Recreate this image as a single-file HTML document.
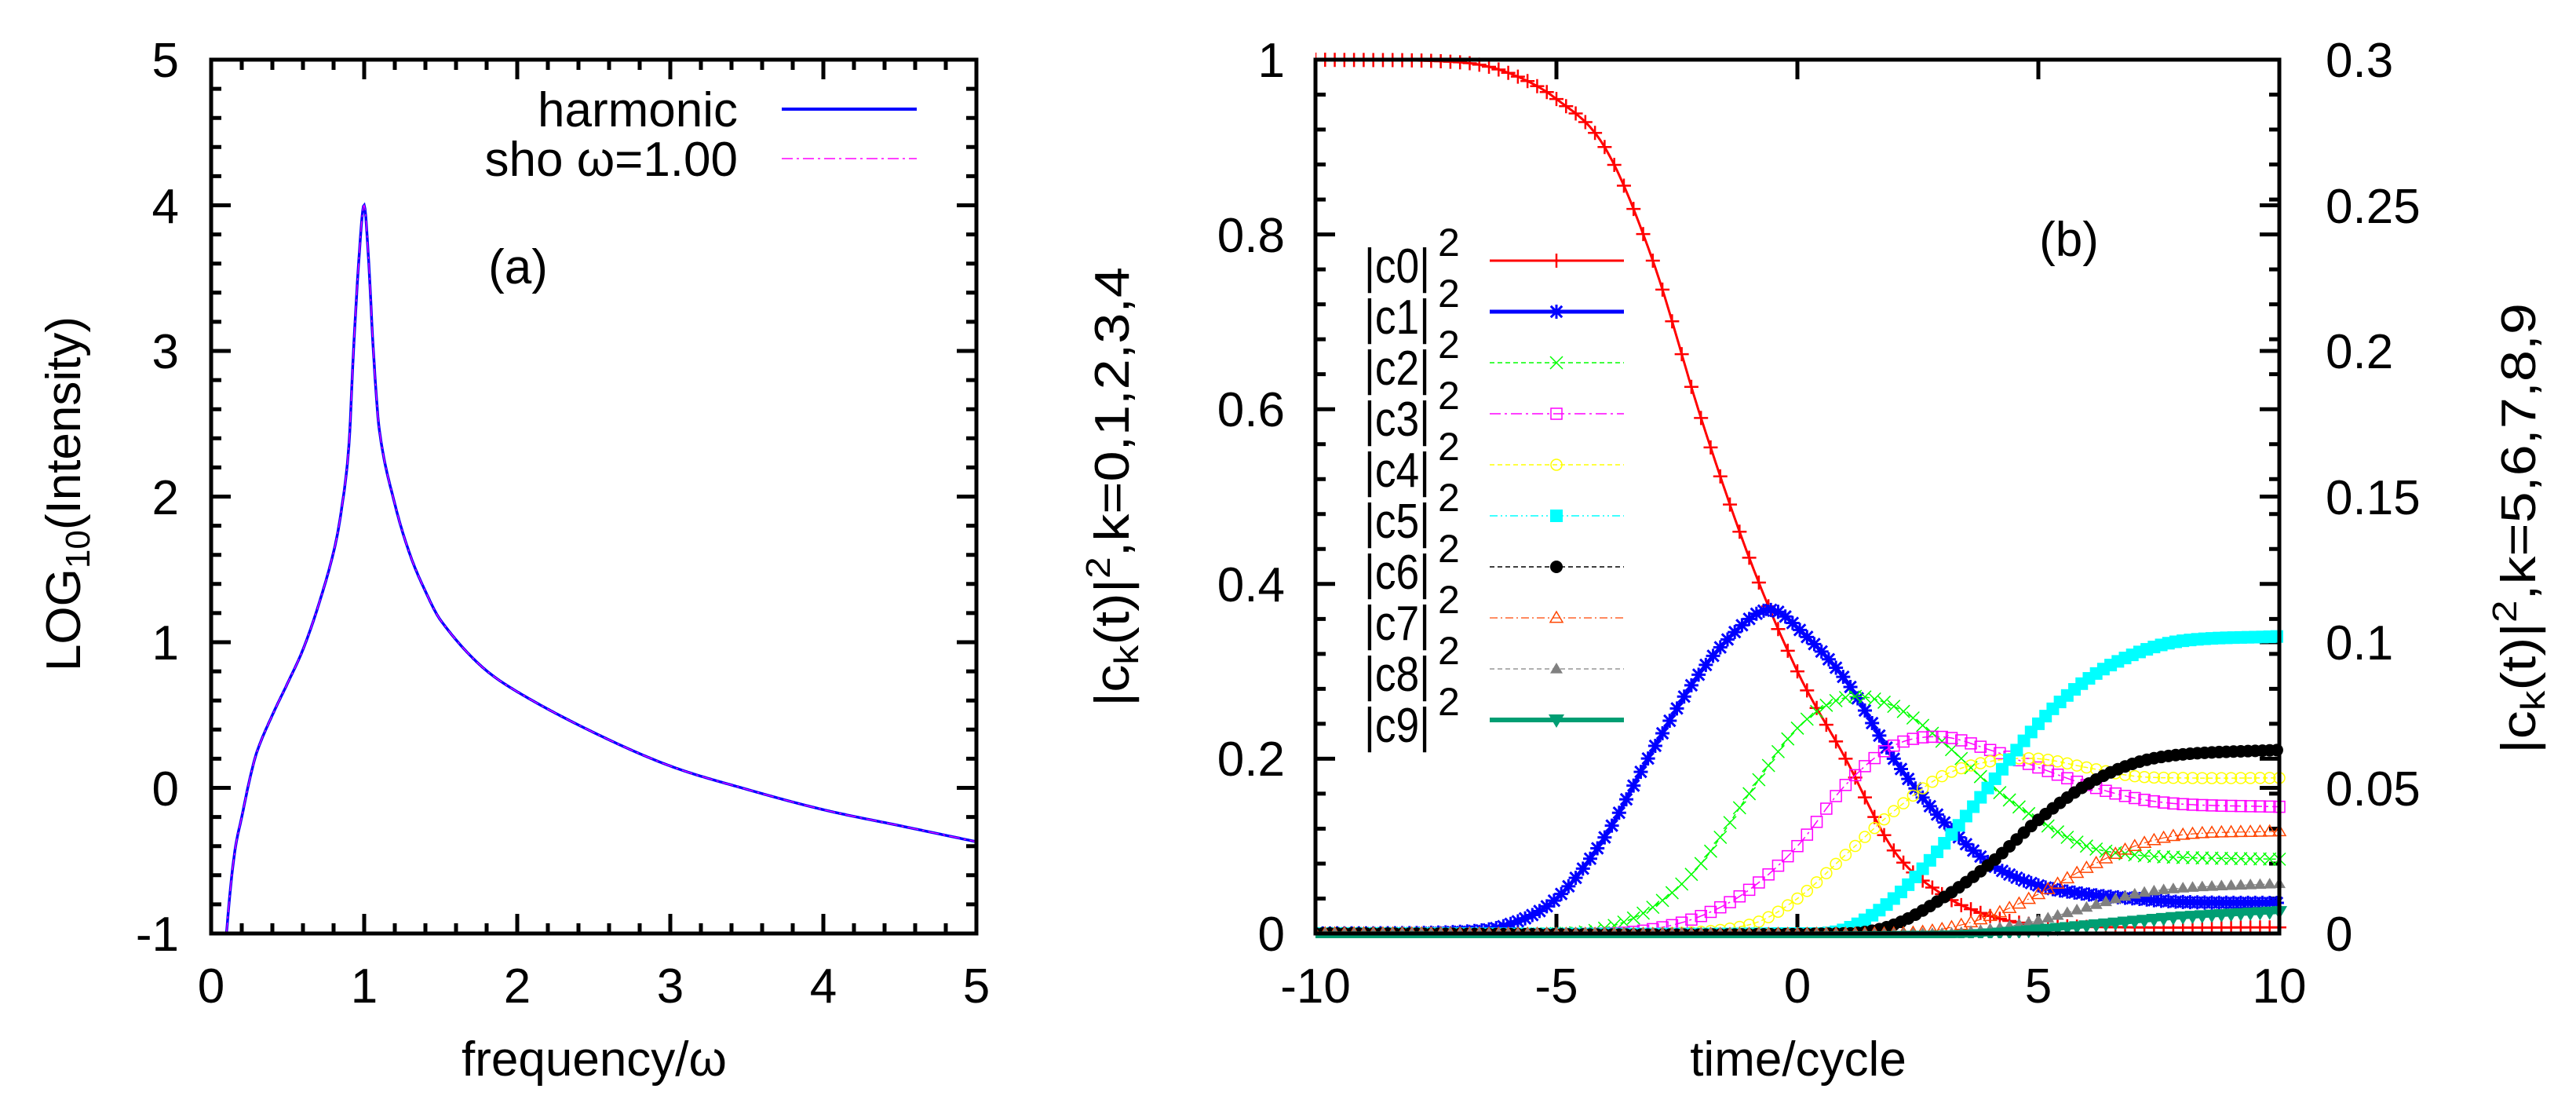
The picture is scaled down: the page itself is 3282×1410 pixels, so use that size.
<!DOCTYPE html>
<html><head><meta charset="utf-8"><style>
html,body{margin:0;padding:0;background:#fff;}
svg{display:block;font-family:"Liberation Sans",sans-serif;}
</style></head><body>
<svg id="s" width="3282" height="1410" viewBox="0 0 3282 1410" xmlns="http://www.w3.org/2000/svg">
<defs>
<clipPath id="ca"><rect x="269" y="76" width="975" height="1113"/></clipPath>
<clipPath id="cb"><rect x="1676" y="60" width="1250" height="1135"/></clipPath>
</defs>
<g id="ticks" stroke="#000" stroke-width="5" fill="none"></g>
<g id="series"></g>
<rect x="269" y="76" width="975" height="1113" fill="none" stroke="#000" stroke-width="5"/>
<rect x="1676" y="76" width="1228" height="1113" fill="none" stroke="#000" stroke-width="5"/>
<g font-size="62" fill="#000">
<g text-anchor="end">
<text x="228" y="98">5</text><text x="228" y="284">4</text><text x="228" y="469">3</text>
<text x="228" y="655">2</text><text x="228" y="840">1</text><text x="228" y="1026">0</text>
<text x="228" y="1211">-1</text>
</g>
<g text-anchor="middle">
<text x="269" y="1277">0</text><text x="464" y="1277">1</text><text x="659" y="1277">2</text>
<text x="854" y="1277">3</text><text x="1049" y="1277">4</text><text x="1244" y="1277">5</text>
<text x="757" y="1370">frequency/ω</text>
<text x="660" y="361">(a)</text>
</g>
<g text-anchor="end">
<text x="940" y="161">harmonic</text>
<text x="940" y="224">sho ω=1.00</text>
</g>
<text transform="translate(102,629) rotate(-90)" text-anchor="middle">LOG<tspan font-size="44" dy="12">10</tspan><tspan dy="-12">(Intensity)</tspan></text>
<g text-anchor="end">
<text x="1637" y="98">1</text><text x="1637" y="321">0.8</text><text x="1637" y="543">0.6</text>
<text x="1637" y="766">0.4</text><text x="1637" y="988">0.2</text><text x="1637" y="1211">0</text>
</g>
<g text-anchor="start">
<text x="2963" y="98">0.3</text><text x="2963" y="284">0.25</text><text x="2963" y="469">0.2</text>
<text x="2963" y="655">0.15</text><text x="2963" y="840">0.1</text><text x="2963" y="1026">0.05</text>
<text x="2963" y="1211">0</text>
</g>
<g text-anchor="middle">
<text x="1676" y="1277">-10</text><text x="1983" y="1277">-5</text><text x="2290" y="1277">0</text>
<text x="2597" y="1277">5</text><text x="2904" y="1277">10</text>
<text x="2291" y="1370">time/cycle</text>
<text x="2636" y="326">(b)</text>
</g>
<text transform="translate(1438,620) rotate(-90)" text-anchor="middle" textLength="560" lengthAdjust="spacingAndGlyphs">|c<tspan font-size="44" dy="12">k</tspan><tspan dy="-12">(t)|</tspan><tspan font-size="44" dy="-24">2</tspan><tspan dy="24">,k=0,1,2,3,4</tspan></text>
<text transform="translate(3230,673) rotate(-90)" text-anchor="middle" textLength="574" lengthAdjust="spacingAndGlyphs">|c<tspan font-size="44" dy="12">k</tspan><tspan dy="-12">(t)|</tspan><tspan font-size="44" dy="-24">2</tspan><tspan dy="24">,k=5,6,7,8,9</tspan></text>
<g id="legtext">
<text x="1738" y="360" textLength="84" lengthAdjust="spacingAndGlyphs">|c0|</text><text x="1832" y="326" font-size="50">2</text>
<text x="1738" y="425" textLength="84" lengthAdjust="spacingAndGlyphs">|c1|</text><text x="1832" y="391" font-size="50">2</text>
<text x="1738" y="490" textLength="84" lengthAdjust="spacingAndGlyphs">|c2|</text><text x="1832" y="456" font-size="50">2</text>
<text x="1738" y="555" textLength="84" lengthAdjust="spacingAndGlyphs">|c3|</text><text x="1832" y="521" font-size="50">2</text>
<text x="1738" y="620" textLength="84" lengthAdjust="spacingAndGlyphs">|c4|</text><text x="1832" y="586" font-size="50">2</text>
<text x="1738" y="685" textLength="84" lengthAdjust="spacingAndGlyphs">|c5|</text><text x="1832" y="651" font-size="50">2</text>
<text x="1738" y="750" textLength="84" lengthAdjust="spacingAndGlyphs">|c6|</text><text x="1832" y="716" font-size="50">2</text>
<text x="1738" y="815" textLength="84" lengthAdjust="spacingAndGlyphs">|c7|</text><text x="1832" y="781" font-size="50">2</text>
<text x="1738" y="880" textLength="84" lengthAdjust="spacingAndGlyphs">|c8|</text><text x="1832" y="846" font-size="50">2</text>
<text x="1738" y="945" textLength="84" lengthAdjust="spacingAndGlyphs">|c9|</text><text x="1832" y="911" font-size="50">2</text>
</g>
</g>
<line x1="996" y1="139" x2="1168" y2="139" stroke="#0000ff" stroke-width="4"/>
<line x1="996" y1="202" x2="1168" y2="202" stroke="#ff00ff" stroke-width="1.5" stroke-dasharray="14,5,3,5"/>
</svg>
<script>
(function(){
var NS="http://www.w3.org/2000/svg";
var tk=document.getElementById('ticks'), sg=document.getElementById('series');
function el(tag,attrs,parent){var e=document.createElementNS(NS,tag);for(var k in attrs)e.setAttribute(k,attrs[k]);(parent||sg).appendChild(e);return e;}
var d='';
function L(x1,y1,x2,y2){d+='M'+x1+' '+y1+'L'+x2+' '+y2;}
for(var i=0;i<=25;i++){var x=269+i*39;var len=(i%5==0)?25:13;L(x,1189,x,1189-len);L(x,76,x,76+len);}
for(var i=0;i<=30;i++){var y=1189-i*1113/30;var len=(i%5==0)?25:13;L(269,y,269+len,y);L(1244,y,1244-len,y);}
for(var i=0;i<=4;i++){var x=1676+i*307;L(x,1189,x,1164);L(x,76,x,101);}
for(var i=0;i<=25;i++){var y=1189-i*1113/25;var len=(i%5==0)?25:13;L(1676,y,1676+len,y);L(2904,y,2904-len,y);}
for(var i=0;i<=6;i++){var y=1189-i*1113/6;L(2904,y,2879,y);}
el('path',{d:d},tk);
function interp(pts,t){
 if(t<=pts[0][0])return pts[0][1];
 if(t>=pts[pts.length-1][0])return pts[pts.length-1][1];
 for(var i=0;i<pts.length-1;i++){if(t<=pts[i+1][0]){
  var p0=pts[Math.max(0,i-1)],p1=pts[i],p2=pts[i+1],p3=pts[Math.min(pts.length-1,i+2)];
  var h=p2[0]-p1[0];var u=(t-p1[0])/h;
  var m1=(p2[1]-p0[1])/(p2[0]-p0[0]||1)*h;
  var m2=(p3[1]-p1[1])/(p3[0]-p1[0]||1)*h;
  var u2=u*u,u3=u2*u;
  return (2*u3-3*u2+1)*p1[1]+(u3-2*u2+u)*m1+(-2*u3+3*u2)*p2[1]+(u3-u2)*m2;}}
}
var P=[[0.1,-1],[0.13,-0.65],[0.16,-0.4],[0.2,-0.2],[0.25,0.05],[0.3,0.25],[0.4,0.5],[0.5,0.72],[0.6,0.95],[0.7,1.25],[0.8,1.62],[0.85,1.9],[0.9,2.35],[0.93,3.0],[0.97,3.7],[1.0,4.0],[1.03,3.6],[1.06,3.0],[1.1,2.45],[1.2,1.95],[1.3,1.6],[1.4,1.35],[1.5,1.15],[1.75,0.85],[2,0.66],[2.5,0.38],[3,0.15],[3.5,-0.01],[4,-0.15],[4.5,-0.26],[5,-0.37]];
var pd='',first=true;
for(var w=0.1;w<=5.0001;w+=0.005){var v=interp(P,w);var x=269+w*195,y=1189-(v+1)*185.5;pd+=(first?'M':'L')+x.toFixed(1)+' '+y.toFixed(1);first=false;}
el('path',{d:pd,fill:'none',stroke:'#0000ff','stroke-width':3.5,'clip-path':'url(#ca)'});
el('path',{d:pd,fill:'none',stroke:'#ff00ff','stroke-width':1.2,'stroke-dasharray':'14,5,3,5','clip-path':'url(#ca)'});
function X(t){return 1676+(t+10)*61.4;}
function Y(v){return 1189-v*1113;}
var S=[
 {c:'#ff0000',w:3,da:'',m:'plus',ms:9,p:[[-10,1],[-7,0.997],[-6,0.985],[-5,0.955],[-4,0.9],[-3,0.77],[-2,0.59],[-1,0.43],[0,0.3],[1,0.2],[2,0.095],[3,0.045],[4,0.02],[5,0.01],[7,0.007],[10,0.007]]},
 {c:'#0000ff',w:5,da:'',m:'star',ms:9,p:[[-10,0],[-7,0.002],[-6,0.01],[-5,0.04],[-4,0.11],[-3,0.21],[-2,0.3],[-1,0.36],[-0.5,0.37],[0,0.35],[1,0.29],[2,0.2],[3,0.13],[4,0.08],[5,0.055],[6,0.045],[7,0.04],[8,0.036],[10,0.035]]},
 {c:'#00ff00',w:1.5,da:'6,4',m:'x',ms:8,p:[[-10,0],[-5,0],[-4,0.006],[-3,0.03],[-2,0.08],[-1,0.16],[0,0.235],[1,0.27],[2,0.26],[3,0.22],[4,0.17],[5,0.13],[6,0.1],[7,0.09],[8,0.087],[10,0.085]]},
 {c:'#ff00ff',w:1.5,da:'14,5,3,5',m:'sq',ms:7,p:[[-10,0],[-4,0],[-3,0.005],[-2,0.02],[-1,0.05],[0,0.1],[1,0.17],[2,0.215],[3,0.225],[4,0.21],[5,0.19],[6,0.17],[7,0.155],[8,0.148],[10,0.145]]},
 {c:'#ffff00',w:1.5,da:'6,4',m:'circ',ms:7,p:[[-10,0],[-3,0],[-1,0.01],[0,0.04],[1,0.09],[2,0.14],[3,0.18],[4,0.197],[5,0.2],[6,0.19],[7,0.18],[8,0.178],[10,0.178]]},
 {c:'#00ffff',w:1.5,da:'10,4,2,4,2,4',m:'fsq',ms:8,p:[[-10,0],[0,0],[1,0.005],[2,0.04],[3,0.1],[4,0.17],[5,0.24],[6,0.29],[7,0.32],[8,0.335],[10,0.34]]},
 {c:'#000000',w:1.5,da:'6,4',m:'fcirc',ms:8,p:[[-10,0],[1,0],[2,0.01],[3,0.04],[4,0.08],[5,0.13],[6,0.17],[7,0.195],[8,0.205],[10,0.21]]},
 {c:'#ff4500',w:1.2,da:'10,4,2,4',m:'tri',ms:8,p:[[-10,0],[2,0],[3,0.005],[4,0.02],[5,0.045],[6,0.075],[7,0.1],[8,0.113],[10,0.117]]},
 {c:'#808080',w:1.2,da:'6,4',m:'ftri',ms:8,p:[[-10,0],[3,0],[4,0.005],[5,0.015],[6,0.03],[7,0.045],[8,0.052],[10,0.057]]},
 {c:'#009e73',w:6,da:'',m:'itri',ms:10,p:[[-10,-0.004],[3,-0.003],[5,0.004],[7,0.014],[8,0.019],[10,0.025]]}
];
function marker(g,type,x,y,s,c){
 if(type=='plus'){el('path',{d:'M'+(x-s)+' '+y+'H'+(x+s)+'M'+x+' '+(y-s)+'V'+(y+s),stroke:c,'stroke-width':2.5,fill:'none'},g);}
 else if(type=='star'){el('path',{d:'M'+(x-s)+' '+y+'H'+(x+s)+'M'+x+' '+(y-s)+'V'+(y+s)+'M'+(x-s*.8)+' '+(y-s*.8)+'L'+(x+s*.8)+' '+(y+s*.8)+'M'+(x-s*.8)+' '+(y+s*.8)+'L'+(x+s*.8)+' '+(y-s*.8),stroke:c,'stroke-width':3,fill:'none'},g);}
 else if(type=='x'){el('path',{d:'M'+(x-s)+' '+(y-s)+'L'+(x+s)+' '+(y+s)+'M'+(x-s)+' '+(y+s)+'L'+(x+s)+' '+(y-s),stroke:c,'stroke-width':1.5,fill:'none'},g);}
 else if(type=='sq'){el('rect',{x:x-s,y:y-s,width:2*s,height:2*s,stroke:c,'stroke-width':1.5,fill:'none'},g);}
 else if(type=='fsq'){el('rect',{x:x-s,y:y-s,width:2*s,height:2*s,fill:c},g);}
 else if(type=='circ'){el('circle',{cx:x,cy:y,r:s,stroke:c,'stroke-width':1.5,fill:'none'},g);}
 else if(type=='fcirc'){el('circle',{cx:x,cy:y,r:s,fill:c},g);}
 else if(type=='tri'){el('path',{d:'M'+x+' '+(y-s)+'L'+(x+s)+' '+(y+s*.7)+'L'+(x-s)+' '+(y+s*.7)+'Z',stroke:c,'stroke-width':1.5,fill:'none'},g);}
 else if(type=='ftri'){el('path',{d:'M'+x+' '+(y-s)+'L'+(x+s)+' '+(y+s*.7)+'L'+(x-s)+' '+(y+s*.7)+'Z',fill:c},g);}
 else if(type=='itri'){el('path',{d:'M'+x+' '+(y+s)+'L'+(x+s)+' '+(y-s*.7)+'L'+(x-s)+' '+(y-s*.7)+'Z',fill:c},g);}
}
var g=el('g',{'clip-path':'url(#cb)'});
for(var k=0;k<S.length;k++){
 var s=S[k],pd='';
 for(var j=0;j<=400;j++){var t=-10+j*0.05;var v=interp(s.p,t);pd+=(j?'L':'M')+X(t).toFixed(1)+' '+Y(v).toFixed(1);}
 var at={d:pd,fill:'none',stroke:s.c,'stroke-width':s.w};if(s.da)at['stroke-dasharray']=s.da;
 el('path',at,g);
 var step=(k==1||k==5||k==6)?0.15:0.2;
 for(var t=-10;t<=10.001;t+=step){var v=interp(s.p,t);marker(g,s.m,X(t),Y(v),s.ms,s.c);}
 var ly=332+k*65;
 var la={x1:1898,y1:ly,x2:2069,y2:ly,stroke:s.c,'stroke-width':s.w};if(s.da)la['stroke-dasharray']=s.da;
 el('line',la);
 marker(sg,s.m,1983,ly,s.ms,s.c);
}
})();
</script>
</body></html>
